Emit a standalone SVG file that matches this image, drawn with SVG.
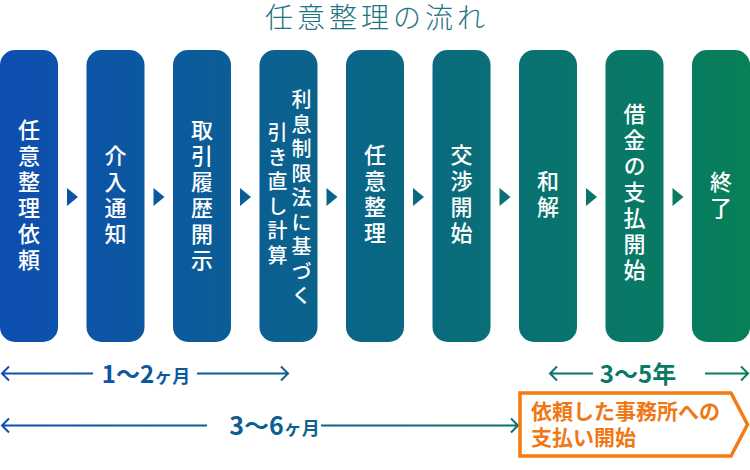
<svg xmlns="http://www.w3.org/2000/svg" width="750" height="470" viewBox="0 0 750 470">
<defs>
<linearGradient id="g" gradientUnits="userSpaceOnUse" x1="0" y1="0" x2="750" y2="0">
<stop offset="0" stop-color="#0D4EB1"/>
<stop offset="1" stop-color="#078058"/>
</linearGradient>
</defs>
<style>
text{font-family:"Noto Sans CJK JP","Noto Sans",sans-serif}
.box{fill:url(#g)}
.tri{fill:url(#g)}
.lbl{fill:#ffffff;font-size:22px;font-weight:500;writing-mode:vertical-rl;text-anchor:middle;letter-spacing:4px}
.lbl2{fill:#ffffff;font-size:20px;font-weight:500;writing-mode:vertical-rl;text-anchor:middle;letter-spacing:4.5px}
.title{fill:#1E7482;font-size:28px;font-weight:300;text-anchor:middle;letter-spacing:4px}
.dur{fill:url(#g);font-size:24px;font-weight:700;text-anchor:middle}
.big{font-size:25px}
.small{font-size:18px}
.arr{fill:none;stroke:url(#g);stroke-width:2}
.call{fill:#ffffff;stroke:#F47A12;stroke-width:3.5}
.callt{fill:#F07814;font-size:21px;font-weight:700}
</style>
<text class="title" x="377" y="28">任意整理の流れ</text>
<g id="node1"><rect class="box" x="0" y="50" width="58" height="292" rx="15"/><text class="lbl" x="29" y="197">任意整理依頼</text></g>
<g id="node2"><rect class="box" x="86.5" y="50" width="58" height="292" rx="15"/><text class="lbl" x="115.5" y="197">介入通知</text></g>
<g id="node3"><rect class="box" x="173" y="50" width="58" height="292" rx="15"/><text class="lbl" x="202" y="197">取引履歴開示</text></g>
<g id="node4"><rect class="box" x="259.5" y="50" width="58" height="292" rx="15"/><text class="lbl2" x="301.5" y="200">利息制限法に基づく</text><text class="lbl2" x="277.5" y="196">引き直し計算</text></g>
<g id="node5"><rect class="box" x="346" y="50" width="58" height="292" rx="15"/><text class="lbl" x="375" y="196">任意整理</text></g>
<g id="node6"><rect class="box" x="432.5" y="50" width="58" height="292" rx="15"/><text class="lbl" x="461.5" y="196">交渉開始</text></g>
<g id="node7"><rect class="box" x="519" y="50" width="58" height="292" rx="15"/><text class="lbl" x="548" y="196">和解</text></g>
<g id="node8"><rect class="box" x="605.5" y="50" width="58" height="292" rx="15"/><text class="lbl" x="634.5" y="194">借金の支払開始</text></g>
<g id="node9"><rect class="box" x="692" y="50" width="58" height="292" rx="15"/><text class="lbl" x="721" y="197">終了</text></g>
<g id="connectors">
<path class="tri" d="M67,188 L78,197 L67,206 Z"/>
<path class="tri" d="M153.5,188 L164.5,197 L153.5,206 Z"/>
<path class="tri" d="M240,188 L251,197 L240,206 Z"/>
<path class="tri" d="M326.5,188 L337.5,197 L326.5,206 Z"/>
<path class="tri" d="M413,188 L424,197 L413,206 Z"/>
<path class="tri" d="M499.5,188 L510.5,197 L499.5,206 Z"/>
<path class="tri" d="M586,188 L597,197 L586,206 Z"/>
<path class="tri" d="M672.5,188 L683.5,197 L672.5,206 Z"/>
</g>
<g id="durations">
<path class="arr" d="M9,366.5 L2,373.5 L9,380.5 M2,373.5 H93 M197,373.5 H288 M281,366.5 L288,373.5 L281,380.5"/>
<text class="dur" x="146" y="382.5">1〜2<tspan class="small">ヶ月</tspan></text>
<path class="arr" d="M9,418.5 L2,425.5 L9,432.5 M2,425.5 H207 M321,425.5 H518 M511,418.5 L518,425.5 L511,432.5"/>
<text class="dur big" x="274.5" y="434.5">3〜6<tspan class="small">ヶ月</tspan></text>
<path class="arr" d="M557,366.5 L550,373.5 L557,380.5 M550,373.5 H593 M705,373.5 H748 M741,366.5 L748,373.5 L741,380.5"/>
<text class="dur" x="638" y="382.5">3〜5年</text>
</g>
<g id="callout">
<path class="call" d="M520,393 L731,393 L747.5,424.5 L731,456 L520,456 Z"/>
<text class="callt" x="531" y="419">依頼した事務所への</text>
<text class="callt" x="531" y="445">支払い開始</text>
</g>
</svg>
